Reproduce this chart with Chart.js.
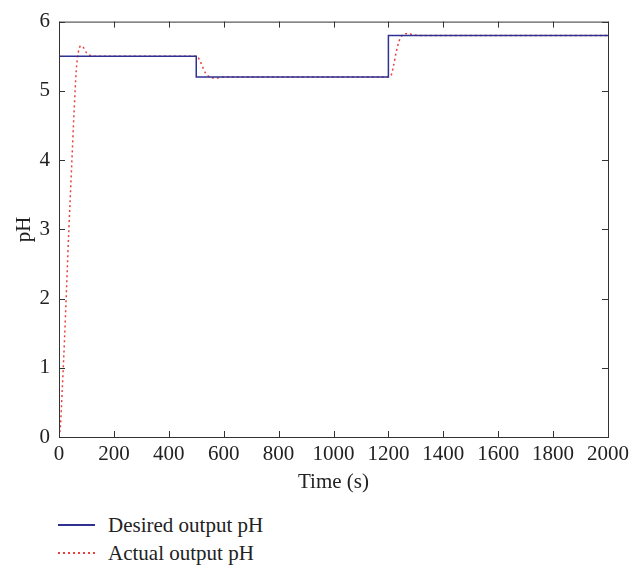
<!DOCTYPE html>
<html>
<head>
<meta charset="utf-8">
<script src="https://cdn.jsdelivr.net/npm/chart.js@4"></script>
<style>
    body { margin: 0; background: #fff; }
    #wrap { position: relative; width: 634px; height: 571px; font-family: "Liberation Serif", "DejaVu Serif", serif; }
    #chartBox { position: absolute; left: 0; top: 0; width: 634px; height: 500px; }
    .legend-row { position: absolute; left: 58px; height: 26px; display: flex; align-items: center; font-size: 21px; color: #222; }
    .legend-line { width: 37px; height: 1.5px; margin-right: 13px; }
    .solid { background: #2e3192; }
    .dotted { background: repeating-linear-gradient(to right, #e8413c 0 2px, transparent 2px 5px); }
</style>
</head>
<body>
<div id="wrap">
    <div id="chartBox"><canvas id="phChart"></canvas></div>
    <div class="legend-row" style="top: 512px;">
        <span class="legend-line solid"></span>Desired output pH
    </div>
    <div class="legend-row" style="top: 540px;">
        <span class="legend-line dotted"></span>Actual output pH
    </div>
</div>
<script>
// --- Data ---
const desiredTime = [0, 500, 500, 1200, 1200, 2000];
const desiredPH = [5.5, 5.5, 5.2, 5.2, 5.8, 5.8];

const actualTime = [0, 5, 12, 20, 28, 36, 46, 55, 63, 70, 80, 90, 100, 115, 130,
    500, 505, 515, 525, 535, 545, 555, 570, 590, 610,
    1200, 1208, 1218, 1228, 1238, 1248, 1258, 1272, 1290, 1310, 2000];
const actualPH = [0, 0.15, 0.7, 1.4, 2.2, 3.0, 3.9, 4.7, 5.3, 5.55, 5.65, 5.62, 5.55, 5.51, 5.5,
    5.5, 5.49, 5.42, 5.33, 5.25, 5.21, 5.19, 5.185, 5.195, 5.2,
    5.2, 5.21, 5.35, 5.55, 5.71, 5.79, 5.82, 5.83, 5.81, 5.8, 5.8];

const xTicks = [0, 200, 400, 600, 800, 1000, 1200, 1400, 1600, 1800, 2000];
const yTicks = [0, 1, 2, 3, 4, 5, 6];

function toPoints(xs, ys) {
    return xs.map(function(x, i) { return { x: x, y: ys[i] }; });
}

const axisColor = '#333';
const serif = '"Liberation Serif", "DejaVu Serif", serif';

// box around the plot area with inward tick marks on all four sides
const boxPlugin = {
    id: 'boxTicks',
    afterDraw(chart) {
        const ctx = chart.ctx;
        const a = chart.chartArea;
        const xs = chart.scales.x, ys = chart.scales.y;
        const len = 6;
        ctx.save();
        ctx.strokeStyle = axisColor;
        ctx.lineWidth = 1;
        ctx.strokeRect(a.left + 0.5, a.top + 0.5, a.right - a.left, a.bottom - a.top);
        ctx.beginPath();
        xTicks.forEach(function(v) {
            const px = Math.round(xs.getPixelForValue(v)) + 0.5;
            ctx.moveTo(px, a.bottom); ctx.lineTo(px, a.bottom - len);
            ctx.moveTo(px, a.top); ctx.lineTo(px, a.top + len);
        });
        yTicks.forEach(function(v) {
            const py = Math.round(ys.getPixelForValue(v)) + 0.5;
            ctx.moveTo(a.left, py); ctx.lineTo(a.left + len, py);
            ctx.moveTo(a.right, py); ctx.lineTo(a.right - len, py);
        });
        ctx.stroke();
        ctx.restore();
    }
};

new Chart(document.getElementById('phChart').getContext('2d'), {
    type: 'line',
    data: {
        datasets: [{
            label: 'Desired output pH',
            data: toPoints(desiredTime, desiredPH),
            borderColor: '#2e3192',
            borderWidth: 1.5,
            pointRadius: 0,
            tension: 0
        }, {
            label: 'Actual output pH',
            data: toPoints(actualTime, actualPH),
            borderColor: '#e8413c',
            borderWidth: 1.5,
            borderDash: [2, 3],
            pointRadius: 0,
            cubicInterpolationMode: 'monotone'
        }]
    },
    options: {
        responsive: true,
        maintainAspectRatio: false,
        animation: false,
        layout: { padding: { top: 14, right: 23, left: 0, bottom: 0 } },
        plugins: {
            legend: { display: false },
            tooltip: { enabled: false }
        },
        scales: {
            x: {
                type: 'linear',
                min: 0,
                max: 2000,
                afterFit: function(scale) { scale.height = 63; },
                afterBuildTicks: function(scale) { scale.ticks = xTicks.map(function(v) { return { value: v }; }); },
                grid: { display: false, drawTicks: false },
                border: { display: false },
                ticks: {
                    color: '#222', padding: 5, maxRotation: 0, autoSkip: false,
                    font: { family: serif, size: 21 },
                    callback: function(v) { return String(v); }
                },
                title: { display: true, text: 'Time (s)', color: '#222', padding: { top: 4, bottom: 5 }, font: { family: serif, size: 21 } }
            },
            y: {
                min: 0,
                max: 6,
                afterFit: function(scale) { scale.width = 59; },
                afterBuildTicks: function(scale) { scale.ticks = yTicks.map(function(v) { return { value: v }; }); },
                grid: { display: false, drawTicks: false },
                border: { display: false },
                ticks: {
                    color: '#222', padding: 9,
                    font: { family: serif, size: 21 },
                    callback: function(v) { return String(v); }
                },
                title: { display: true, text: 'pH', color: '#222', padding: { top: 12, bottom: 0 }, font: { family: serif, size: 21 } }
            }
        }
    },
    plugins: [boxPlugin]
});
</script>
</body>
</html>
